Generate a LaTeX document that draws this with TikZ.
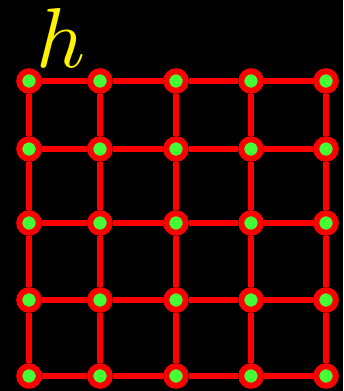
\documentclass[tikz,border=0pt]{standalone}
\usepackage{tikz}

\definecolor{sitegreen}{RGB}{68,255,51}

\begin{document}
\begin{tikzpicture}[
  x=1pt,
  y=-1pt,
  site/.style={
    circle,
    draw=red,
    fill=sitegreen,
    line width=6pt,
    minimum size=19.5pt,
    inner sep=0pt
  },
  bond/.style={red,line width=6pt}
]
  \fill[black] (0,0) rectangle (343,391);
  \useasboundingbox (0,0) rectangle (343,391);

  \foreach \c/\x in {1/29,2/100,3/176,4/251,5/326}
    \foreach \r/\y in {1/81,2/149,3/223,4/300,5/376}
      \node[site] (n\r\c) at (\x,\y) {};

  \foreach \r in {1,...,5}
    \draw[bond] (n\r1) -- (n\r2) -- (n\r3) -- (n\r4) -- (n\r5);
  \foreach \c in {1,...,5}
    \draw[bond] (n1\c) -- (n2\c) -- (n3\c) -- (n4\c) -- (n5\c);

  \node[yellow,inner sep=0pt] (label) at (61,38) {\scalebox{8.5}{$h$}};
\end{tikzpicture}
\end{document}
